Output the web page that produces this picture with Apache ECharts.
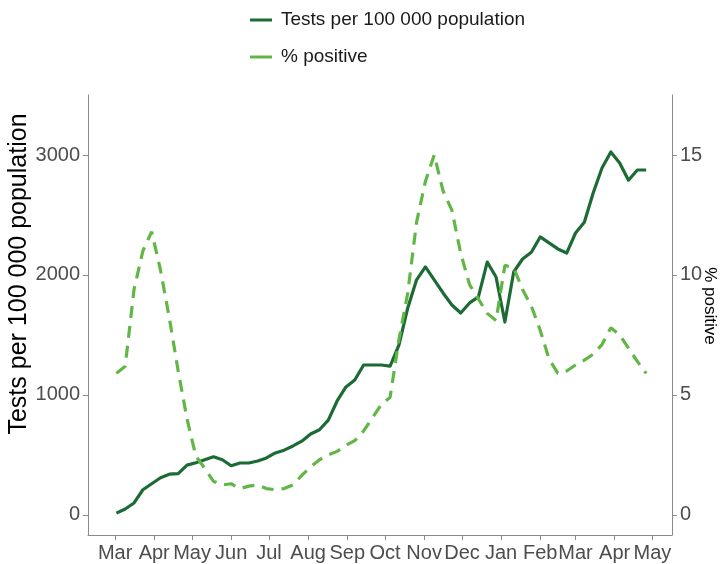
<!DOCTYPE html>
<html><head><meta charset="utf-8">
<script src="https://cdn.jsdelivr.net/npm/echarts@6/dist/echarts.min.js"></script>
<style>html,body{margin:0;padding:0;background:#fff}#c{width:727px;height:564px}</style>
</head><body><div id="c"></div>
<script>
const weeks = ["2020-03-02","2020-03-09","2020-03-16","2020-03-23","2020-03-30","2020-04-06","2020-04-13","2020-04-20","2020-04-27","2020-05-04","2020-05-11","2020-05-18","2020-05-25","2020-06-01","2020-06-08","2020-06-15","2020-06-22","2020-06-29","2020-07-06","2020-07-13","2020-07-20","2020-07-27","2020-08-03","2020-08-10","2020-08-17","2020-08-24","2020-08-31","2020-09-07","2020-09-14","2020-09-21","2020-09-28","2020-10-05","2020-10-12","2020-10-19","2020-10-26","2020-11-02","2020-11-09","2020-11-16","2020-11-23","2020-11-30","2020-12-07","2020-12-14","2020-12-21","2020-12-28","2021-01-04","2021-01-11","2021-01-18","2021-01-25","2021-02-01","2021-02-08","2021-02-15","2021-02-22","2021-03-01","2021-03-08","2021-03-15","2021-03-22","2021-03-29","2021-04-05","2021-04-12","2021-04-19","2021-04-26"];
const tests = [15,50,100,210,260,310,340,345,415,435,460,485,460,410,433,433,450,475,517,540,575,615,675,710,790,950,1067,1125,1250,1250,1250,1240,1415,1725,1960,2067,1960,1850,1750,1683,1767,1817,2108,1983,1608,2025,2133,2190,2317,2267,2217,2183,2350,2440,2683,2892,3025,2933,2790,2875,2875];
const pctPositive = [5.9,6.2,9.4,11.0,11.8,10.2,8.2,6.0,4.0,2.45,1.95,1.4,1.25,1.3,1.1,1.2,1.25,1.1,1.05,1.1,1.25,1.65,2.0,2.3,2.5,2.65,2.9,3.1,3.5,4.05,4.6,4.9,7.3,9.25,12.2,13.9,15.0,13.5,12.7,10.9,9.6,9.0,8.4,8.1,10.4,10.3,9.4,8.7,7.7,6.5,5.9,6.0,6.25,6.45,6.7,7.1,7.8,7.5,6.95,6.4,5.9];
const monthTicks = ["2020-03-01","2020-04-01","2020-05-01","2020-06-01","2020-07-01","2020-08-01","2020-09-01","2020-10-01","2020-11-01","2020-12-01","2021-01-01","2021-02-01","2021-03-01","2021-04-01","2021-05-01"];
const monthLabels = ["Mar","Apr","May","Jun","Jul","Aug","Sep","Oct","Nov","Dec","Jan","Feb","Mar","Apr","May"];
const leftTicks = [0,1000,2000,3000];
const rightTicks = [0,5,10,15];

const origin = Date.UTC(2020,2,1);
function dayOf(s){ const p=s.split('-').map(Number); return Math.round((Date.UTC(p[0],p[1]-1,p[2])-origin)/86400000); }
const tickDays = monthTicks.map(dayOf);
const font = '"Liberation Sans", Arial, sans-serif';
const axisGrey = '#8a8a8a';
const darkGreen = '#1d6b34';
const lightGreen = '#62b646';

const chart = echarts.init(document.getElementById('c'), null, {renderer:'canvas'});
chart.setOption({
  animation:false,
  backgroundColor:'#fff',
  textStyle:{fontFamily:font},
  legend:{
    orient:'vertical', left:245, top:5,
    itemWidth:22, itemHeight:3, itemGap:17,
    icon:'rect',
    textStyle:{fontSize:19, color:'#1a1a1a', fontFamily:font, lineHeight:20, padding:[0,0,0,4]},
    data:['Tests per 100 000 population','% positive']
  },
  grid:{left:88, right:55, top:95, bottom:29, containLabel:false, outerBoundsMode:'none'},
  xAxis:{
    type:'value', min:-21.5, max:441.5,
    axisLine:{show:true, onZero:false, lineStyle:{color:axisGrey, width:1}},
    axisTick:{show:true, length:5, lineStyle:{color:axisGrey}, customValues:tickDays},
    axisLabel:{customValues:tickDays, margin:8, fontSize:20, color:'#4d4d4d', fontFamily:font,
      formatter:function(v){ let best=0,bd=1e9; tickDays.forEach((d,i)=>{ if(Math.abs(d-v)<bd){bd=Math.abs(d-v);best=i;} }); return monthLabels[best]; }},
    splitLine:{show:false}
  },
  yAxis:[{
    type:'value', min:-167, max:3500, position:'left',
    name:'Tests per 100 000 population', nameLocation:'middle', nameGap:56, nameRotate:90,
    nameMoveOverlap:false,
    nameTextStyle:{fontSize:25, color:'#000', fontFamily:font, padding:[0,0,0,82]},
    axisLine:{show:true, onZero:false, lineStyle:{color:axisGrey, width:1}},
    axisTick:{show:true, length:5, lineStyle:{color:axisGrey}, customValues:leftTicks},
    axisLabel:{customValues:leftTicks, margin:8, fontSize:20, color:'#4d4d4d', fontFamily:font,
      formatter:function(v){ return String(Math.round(v)); }},
    splitLine:{show:false}
  },{
    type:'value', min:-0.835, max:17.5, position:'right',
    name:'% positive', nameLocation:'middle', nameGap:29, nameRotate:-90,
    nameMoveOverlap:false,
    nameTextStyle:{fontSize:17, color:'#000', fontFamily:font, padding:[0,18,0,0]},
    axisLine:{show:true, onZero:false, lineStyle:{color:axisGrey, width:1}},
    axisTick:{show:true, length:5, lineStyle:{color:axisGrey}, customValues:rightTicks},
    axisLabel:{customValues:rightTicks, margin:8, fontSize:20, color:'#4d4d4d', fontFamily:font,
      formatter:function(v){ return String(Math.round(v)); }},
    splitLine:{show:false}
  }],
  series:[{
    name:'Tests per 100 000 population', type:'line', yAxisIndex:0,
    color:darkGreen, showSymbol:false, symbol:'none',
    lineStyle:{color:darkGreen, width:3.2, join:'round'},
    data:weeks.map((w,i)=>[dayOf(w), tests[i]])
  },{
    name:'% positive', type:'line', yAxisIndex:1,
    color:lightGreen, showSymbol:false, symbol:'none',
    lineStyle:{color:lightGreen, width:3.2, type:[12,8], cap:'butt'},
    data:weeks.map((w,i)=>[dayOf(w), pctPositive[i]])
  }]
});
</script></body></html>
